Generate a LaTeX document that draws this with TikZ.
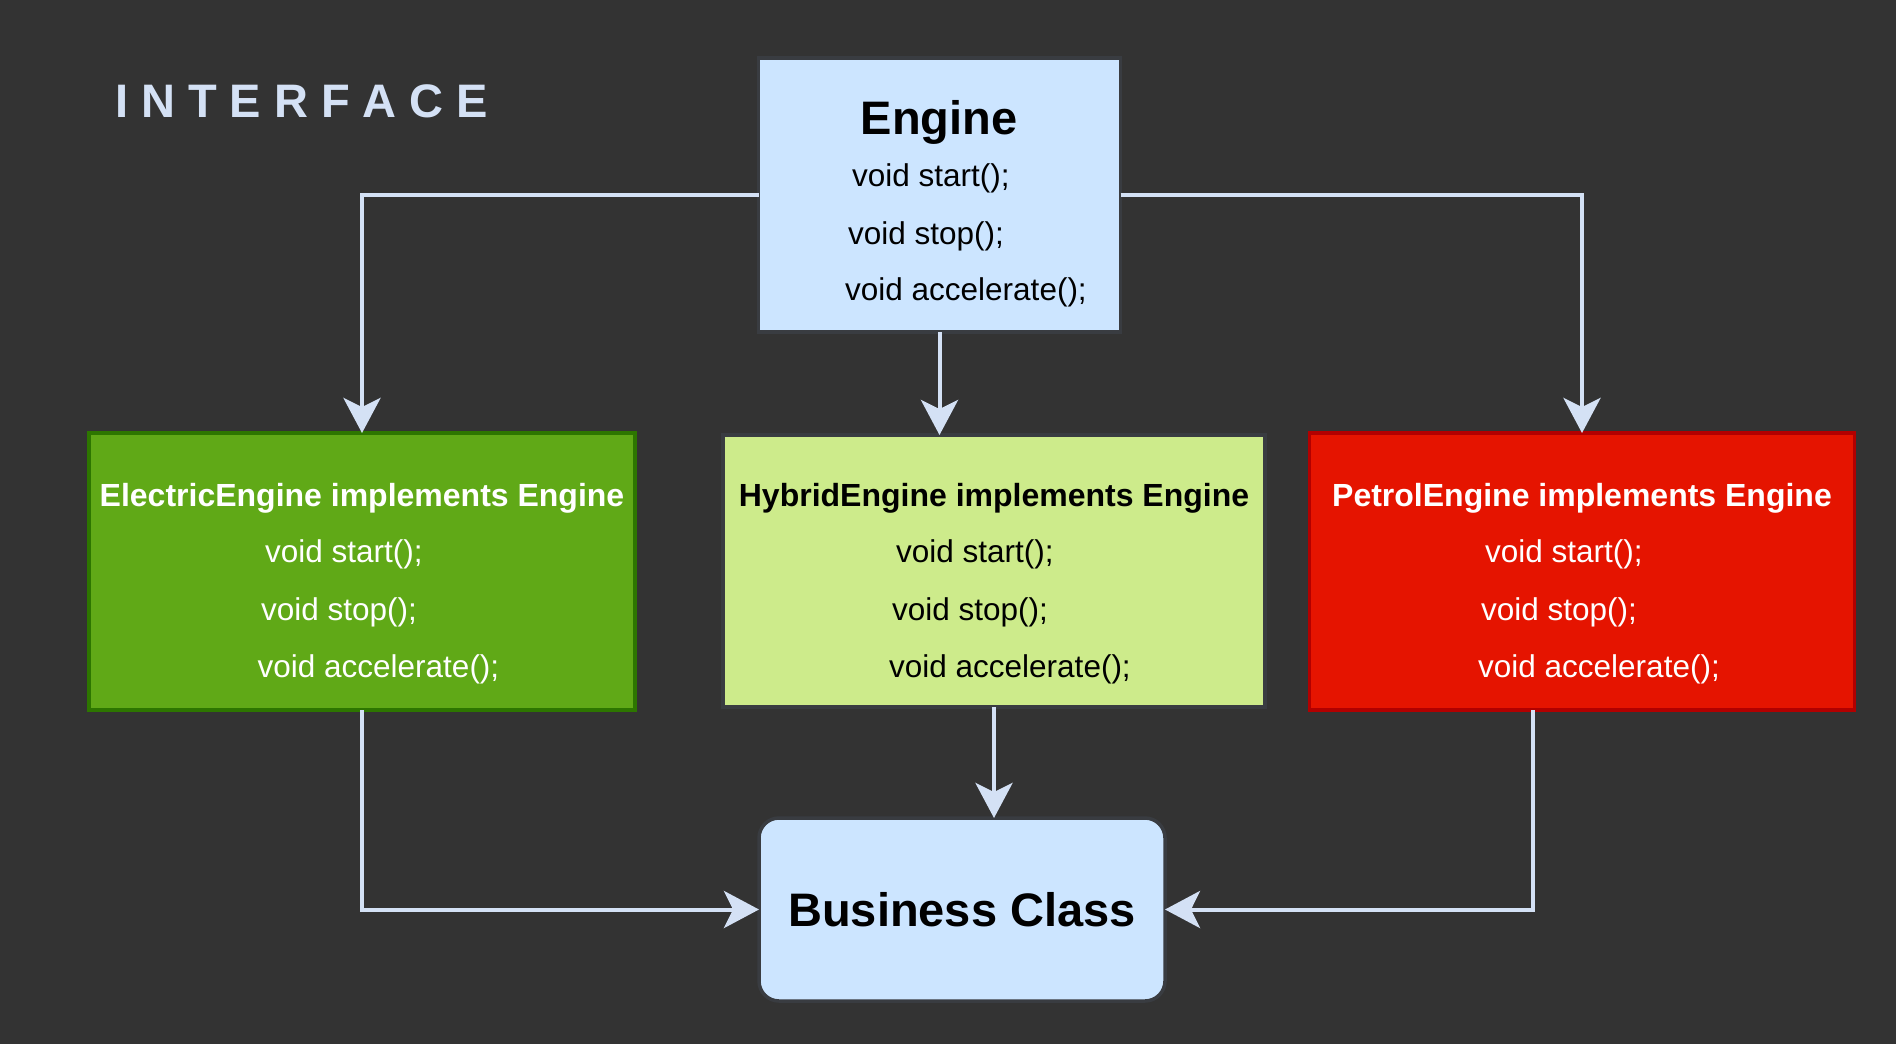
\documentclass[tikz,border=0pt]{standalone}
\usepackage{fontspec}
\setmainfont{Liberation Sans}
\usetikzlibrary{arrows.meta}
\definecolor{bg}{HTML}{333333}
\definecolor{lblue}{HTML}{CCE5FF}
\definecolor{arrowc}{HTML}{D4E1F5}
\definecolor{gfill}{HTML}{60A917}
\definecolor{gline}{HTML}{2D7600}
\definecolor{hfill}{HTML}{CDEB8B}
\definecolor{rfill}{HTML}{E51400}
\definecolor{rline}{HTML}{B20000}
\definecolor{dline}{HTML}{393C41}
\begin{document}
\begin{tikzpicture}[x=1pt,y=-1pt,
  box/.style={rectangle, inner sep=0pt, outer sep=0pt, line width=3.5pt},
  conn/.style={draw=arrowc, line width=4pt, -{Stealth[length=35pt,width=37pt,inset=9pt]}},
  meth/.style={anchor=base west, font=\fontsize{31.5}{36}\selectfont, inner sep=0pt},
  ttl/.style={anchor=base, font=\bfseries\fontsize{32}{38}\selectfont, inner sep=0pt},
  big/.style={font=\bfseries\fontsize{47}{56}\selectfont, inner sep=0pt}
]
\useasboundingbox (0,0) rectangle (1896,1044);
\fill[bg] (0,0) rectangle (1896,1044);

% title
\node[big, anchor=base west, text=arrowc] (iface) at (115,117)
  {I\kern13pt N\kern13pt T\kern13pt E\kern13pt R\kern13pt F\kern13pt A\kern13pt C\kern13pt E};

% boxes
\node[box, draw=dline, fill=lblue, minimum width=362pt, minimum height=274pt] (engine) at (939.5,195) {};
\node[box, draw=gline, fill=gfill, minimum width=546pt, minimum height=277pt] (green) at (362,571.5) {};
\node[box, draw=dline, fill=hfill, minimum width=542pt, minimum height=272pt] (hybrid) at (994,571) {};
\node[box, draw=rline, fill=rfill, minimum width=545pt, minimum height=277pt] (red) at (1582,571.5) {};
\node[box, draw=dline, fill=lblue, rounded corners=20pt, minimum width=406pt, minimum height=183pt, big] (business) at (962,909.5) {Business Class};

% Engine text
\node[big, anchor=base] (etitle) at (939,134) {Engine};
\node[meth] (e1) at (852,186) {void start();};
\node[meth] (e2) at (848,244) {void stop();};
\node[meth] (e3) at (845,300) {void accelerate();};

% Electric text
\node[ttl, text=white] (gtitle) at (362,506) {ElectricEngine implements Engine};
\node[meth, text=white] (g1) at (265,562) {void start();};
\node[meth, text=white] (g2) at (261,620) {void stop();};
\node[meth, text=white] (g3) at (257.5,677) {void accelerate();};

% Hybrid text
\node[ttl] (htitle) at (994,506) {HybridEngine implements Engine};
\node[meth] (h1) at (896,562) {void start();};
\node[meth] (h2) at (892,620) {void stop();};
\node[meth] (h3) at (889,677) {void accelerate();};

% Petrol text
\node[ttl, text=white] (rtitle) at (1582,506) {PetrolEngine implements Engine};
\node[meth, text=white] (r1) at (1485,562) {void start();};
\node[meth, text=white] (r2) at (1481,620) {void stop();};
\node[meth, text=white] (r3) at (1478,677) {void accelerate();};

% connectors
\draw[conn] (engine.west) -| (green.north);
\draw[conn] (engine.east) -| (red.north);
\draw[conn] (engine.south) -- (engine.south |- hybrid.north);
\draw[conn] (green.south) |- (business.west);
\draw[conn] (hybrid.south) -- (hybrid.south |- business.north);
\coordinate (rs) at ([xshift=-49pt]red.south);
\draw[conn] (rs) |- (business.east);
\end{tikzpicture}
\end{document}
